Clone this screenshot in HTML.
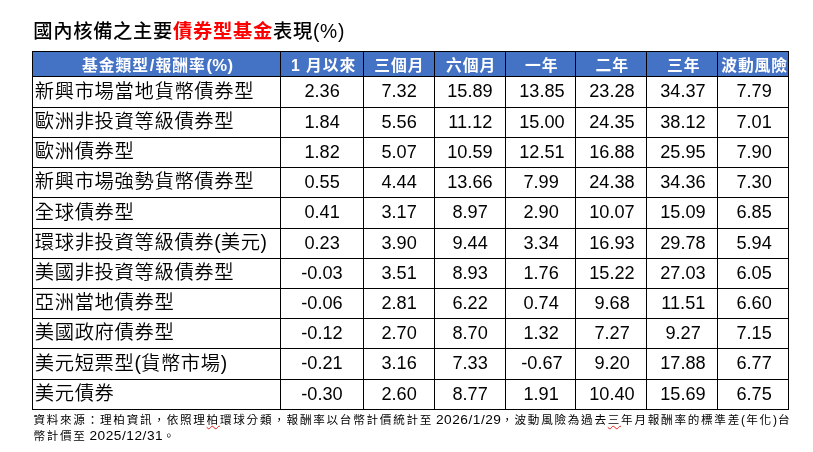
<!DOCTYPE html><html lang="zh-Hant"><head><meta charset="utf-8"><title>債券型基金表現</title><style>
html,body{margin:0;padding:0;background:#fff;}
body{width:813px;height:452px;position:relative;overflow:hidden;font-family:"Liberation Sans","Noto Sans CJK TC",sans-serif;color:#000;}
.a{position:absolute;white-space:nowrap;}
.title{left:33.2px;top:18.0px;font-size:19.3px;font-weight:500;line-height:28px;height:28px;letter-spacing:0.7px;}
.title b{color:#ff0000;font-weight:700;}
.hdrbg{background:#4472c4;}
.ln{position:absolute;background:#000;}
.h{color:#fff;font-weight:700;font-size:15.8px;text-align:center;letter-spacing:0.9px;}
.h i{font-style:normal;font-size:16.7px;letter-spacing:0.4px;padding:0 0.8px;line-height:1px;}
.foot i{font-style:normal;font-size:13.7px;letter-spacing:0.52px;line-height:1px;position:relative;top:-0.1px;margin-left:-2.2px;margin-right:-0.3px;}
.foot i.p{font-size:12px;letter-spacing:1.2px;top:0;margin:0;}
.foot u{text-decoration:underline wavy #e8201a;text-decoration-thickness:1px;text-underline-offset:1px;text-decoration-skip-ink:none;}
.c i{font-style:normal;letter-spacing:0;}
.c{font-size:19.3px;font-weight:350;text-align:left;letter-spacing:0.66px;}
.n{font-size:17.55px;text-align:center;}
.n span{display:inline-block;transform:scaleX(1.035);}
.foot{left:33.4px;top:412.0px;width:765px;font-size:11.6px;line-height:16.0px;white-space:nowrap;letter-spacing:1.73px;}

</style></head><body>
<div class="a title">國內核備之主要<b>債券型基金</b>表現(%)</div>
<div class="a hdrbg" style="left:32.00px;top:51.00px;width:757.00px;height:26.00px"></div>
<div class="a h" style="left:34.20px;top:53.20px;width:248.00px;height:25.00px;line-height:25.00px">基金類型<i>/</i>報酬率<i>(%)</i></div>
<div class="a h" style="left:282.10px;top:53.20px;width:83.00px;height:25.00px;line-height:25.00px">1 月以來</div>
<div class="a h" style="left:363.90px;top:53.20px;width:71.00px;height:25.00px;line-height:25.00px">三個月</div>
<div class="a h" style="left:435.60px;top:53.20px;width:71.00px;height:25.00px;line-height:25.00px">六個月</div>
<div class="a h" style="left:506.70px;top:53.20px;width:70.00px;height:25.00px;line-height:25.00px">一年</div>
<div class="a h" style="left:576.70px;top:53.20px;width:71.00px;height:25.00px;line-height:25.00px">二年</div>
<div class="a h" style="left:648.20px;top:53.20px;width:71.00px;height:25.00px;line-height:25.00px">三年</div>
<div class="a h" style="left:719.10px;top:53.20px;width:71.00px;height:25.00px;line-height:25.00px">波動風險</div>
<div class="a c" style="left:34.80px;top:75.70px;height:31.00px;line-height:31.00px">新興市場當地貨幣債券型</div>
<div class="a n" style="left:280.80px;top:75.85px;width:83.00px;height:31.00px;line-height:31.00px"><span>2.36</span></div>
<div class="a n" style="left:363.50px;top:75.85px;width:71.00px;height:31.00px;line-height:31.00px"><span>7.32</span></div>
<div class="a n" style="left:434.50px;top:75.85px;width:71.00px;height:31.00px;line-height:31.00px"><span>15.89</span></div>
<div class="a n" style="left:506.50px;top:75.85px;width:70.00px;height:31.00px;line-height:31.00px"><span>13.85</span></div>
<div class="a n" style="left:576.50px;top:75.85px;width:71.00px;height:31.00px;line-height:31.00px"><span>23.28</span></div>
<div class="a n" style="left:647.50px;top:75.85px;width:71.00px;height:31.00px;line-height:31.00px"><span>34.37</span></div>
<div class="a n" style="left:718.50px;top:75.85px;width:71.00px;height:31.00px;line-height:31.00px"><span>7.79</span></div>
<div class="a c" style="left:34.80px;top:106.70px;height:30.00px;line-height:30.00px">歐洲非投資等級債券型</div>
<div class="a n" style="left:280.80px;top:106.85px;width:83.00px;height:30.00px;line-height:30.00px"><span>1.84</span></div>
<div class="a n" style="left:363.50px;top:106.85px;width:71.00px;height:30.00px;line-height:30.00px"><span>5.56</span></div>
<div class="a n" style="left:434.50px;top:106.85px;width:71.00px;height:30.00px;line-height:30.00px"><span>11.12</span></div>
<div class="a n" style="left:506.50px;top:106.85px;width:70.00px;height:30.00px;line-height:30.00px"><span>15.00</span></div>
<div class="a n" style="left:576.50px;top:106.85px;width:71.00px;height:30.00px;line-height:30.00px"><span>24.35</span></div>
<div class="a n" style="left:647.50px;top:106.85px;width:71.00px;height:30.00px;line-height:30.00px"><span>38.12</span></div>
<div class="a n" style="left:718.50px;top:106.85px;width:71.00px;height:30.00px;line-height:30.00px"><span>7.01</span></div>
<div class="a c" style="left:34.80px;top:136.70px;height:30.00px;line-height:30.00px">歐洲債券型</div>
<div class="a n" style="left:280.80px;top:136.85px;width:83.00px;height:30.00px;line-height:30.00px"><span>1.82</span></div>
<div class="a n" style="left:363.50px;top:136.85px;width:71.00px;height:30.00px;line-height:30.00px"><span>5.07</span></div>
<div class="a n" style="left:434.50px;top:136.85px;width:71.00px;height:30.00px;line-height:30.00px"><span>10.59</span></div>
<div class="a n" style="left:506.50px;top:136.85px;width:70.00px;height:30.00px;line-height:30.00px"><span>12.51</span></div>
<div class="a n" style="left:576.50px;top:136.85px;width:71.00px;height:30.00px;line-height:30.00px"><span>16.88</span></div>
<div class="a n" style="left:647.50px;top:136.85px;width:71.00px;height:30.00px;line-height:30.00px"><span>25.95</span></div>
<div class="a n" style="left:718.50px;top:136.85px;width:71.00px;height:30.00px;line-height:30.00px"><span>7.90</span></div>
<div class="a c" style="left:34.80px;top:166.70px;height:30.00px;line-height:30.00px">新興市場強勢貨幣債券型</div>
<div class="a n" style="left:280.80px;top:166.85px;width:83.00px;height:30.00px;line-height:30.00px"><span>0.55</span></div>
<div class="a n" style="left:363.50px;top:166.85px;width:71.00px;height:30.00px;line-height:30.00px"><span>4.44</span></div>
<div class="a n" style="left:434.50px;top:166.85px;width:71.00px;height:30.00px;line-height:30.00px"><span>13.66</span></div>
<div class="a n" style="left:506.50px;top:166.85px;width:70.00px;height:30.00px;line-height:30.00px"><span>7.99</span></div>
<div class="a n" style="left:576.50px;top:166.85px;width:71.00px;height:30.00px;line-height:30.00px"><span>24.38</span></div>
<div class="a n" style="left:647.50px;top:166.85px;width:71.00px;height:30.00px;line-height:30.00px"><span>34.36</span></div>
<div class="a n" style="left:718.50px;top:166.85px;width:71.00px;height:30.00px;line-height:30.00px"><span>7.30</span></div>
<div class="a c" style="left:34.80px;top:196.70px;height:31.00px;line-height:31.00px">全球債券型</div>
<div class="a n" style="left:280.80px;top:196.85px;width:83.00px;height:31.00px;line-height:31.00px"><span>0.41</span></div>
<div class="a n" style="left:363.50px;top:196.85px;width:71.00px;height:31.00px;line-height:31.00px"><span>3.17</span></div>
<div class="a n" style="left:434.50px;top:196.85px;width:71.00px;height:31.00px;line-height:31.00px"><span>8.97</span></div>
<div class="a n" style="left:506.50px;top:196.85px;width:70.00px;height:31.00px;line-height:31.00px"><span>2.90</span></div>
<div class="a n" style="left:576.50px;top:196.85px;width:71.00px;height:31.00px;line-height:31.00px"><span>10.07</span></div>
<div class="a n" style="left:647.50px;top:196.85px;width:71.00px;height:31.00px;line-height:31.00px"><span>15.09</span></div>
<div class="a n" style="left:718.50px;top:196.85px;width:71.00px;height:31.00px;line-height:31.00px"><span>6.85</span></div>
<div class="a c" style="left:34.80px;top:227.70px;height:30.00px;line-height:30.00px">環球非投資等級債券<i>(</i>美元<i>)</i></div>
<div class="a n" style="left:280.80px;top:227.85px;width:83.00px;height:30.00px;line-height:30.00px"><span>0.23</span></div>
<div class="a n" style="left:363.50px;top:227.85px;width:71.00px;height:30.00px;line-height:30.00px"><span>3.90</span></div>
<div class="a n" style="left:434.50px;top:227.85px;width:71.00px;height:30.00px;line-height:30.00px"><span>9.44</span></div>
<div class="a n" style="left:506.50px;top:227.85px;width:70.00px;height:30.00px;line-height:30.00px"><span>3.34</span></div>
<div class="a n" style="left:576.50px;top:227.85px;width:71.00px;height:30.00px;line-height:30.00px"><span>16.93</span></div>
<div class="a n" style="left:647.50px;top:227.85px;width:71.00px;height:30.00px;line-height:30.00px"><span>29.78</span></div>
<div class="a n" style="left:718.50px;top:227.85px;width:71.00px;height:30.00px;line-height:30.00px"><span>5.94</span></div>
<div class="a c" style="left:34.80px;top:257.70px;height:30.00px;line-height:30.00px">美國非投資等級債券型</div>
<div class="a n" style="left:280.80px;top:257.85px;width:83.00px;height:30.00px;line-height:30.00px"><span>-0.03</span></div>
<div class="a n" style="left:363.50px;top:257.85px;width:71.00px;height:30.00px;line-height:30.00px"><span>3.51</span></div>
<div class="a n" style="left:434.50px;top:257.85px;width:71.00px;height:30.00px;line-height:30.00px"><span>8.93</span></div>
<div class="a n" style="left:506.50px;top:257.85px;width:70.00px;height:30.00px;line-height:30.00px"><span>1.76</span></div>
<div class="a n" style="left:576.50px;top:257.85px;width:71.00px;height:30.00px;line-height:30.00px"><span>15.22</span></div>
<div class="a n" style="left:647.50px;top:257.85px;width:71.00px;height:30.00px;line-height:30.00px"><span>27.03</span></div>
<div class="a n" style="left:718.50px;top:257.85px;width:71.00px;height:30.00px;line-height:30.00px"><span>6.05</span></div>
<div class="a c" style="left:34.80px;top:287.70px;height:30.00px;line-height:30.00px">亞洲當地債券型</div>
<div class="a n" style="left:280.80px;top:287.85px;width:83.00px;height:30.00px;line-height:30.00px"><span>-0.06</span></div>
<div class="a n" style="left:363.50px;top:287.85px;width:71.00px;height:30.00px;line-height:30.00px"><span>2.81</span></div>
<div class="a n" style="left:434.50px;top:287.85px;width:71.00px;height:30.00px;line-height:30.00px"><span>6.22</span></div>
<div class="a n" style="left:506.50px;top:287.85px;width:70.00px;height:30.00px;line-height:30.00px"><span>0.74</span></div>
<div class="a n" style="left:576.50px;top:287.85px;width:71.00px;height:30.00px;line-height:30.00px"><span>9.68</span></div>
<div class="a n" style="left:647.50px;top:287.85px;width:71.00px;height:30.00px;line-height:30.00px"><span>11.51</span></div>
<div class="a n" style="left:718.50px;top:287.85px;width:71.00px;height:30.00px;line-height:30.00px"><span>6.60</span></div>
<div class="a c" style="left:34.80px;top:317.70px;height:30.00px;line-height:30.00px">美國政府債券型</div>
<div class="a n" style="left:280.80px;top:317.85px;width:83.00px;height:30.00px;line-height:30.00px"><span>-0.12</span></div>
<div class="a n" style="left:363.50px;top:317.85px;width:71.00px;height:30.00px;line-height:30.00px"><span>2.70</span></div>
<div class="a n" style="left:434.50px;top:317.85px;width:71.00px;height:30.00px;line-height:30.00px"><span>8.70</span></div>
<div class="a n" style="left:506.50px;top:317.85px;width:70.00px;height:30.00px;line-height:30.00px"><span>1.32</span></div>
<div class="a n" style="left:576.50px;top:317.85px;width:71.00px;height:30.00px;line-height:30.00px"><span>7.27</span></div>
<div class="a n" style="left:647.50px;top:317.85px;width:71.00px;height:30.00px;line-height:30.00px"><span>9.27</span></div>
<div class="a n" style="left:718.50px;top:317.85px;width:71.00px;height:30.00px;line-height:30.00px"><span>7.15</span></div>
<div class="a c" style="left:34.80px;top:347.70px;height:31.00px;line-height:31.00px">美元短票型<i>(</i>貨幣市場<i>)</i></div>
<div class="a n" style="left:280.80px;top:347.85px;width:83.00px;height:31.00px;line-height:31.00px"><span>-0.21</span></div>
<div class="a n" style="left:363.50px;top:347.85px;width:71.00px;height:31.00px;line-height:31.00px"><span>3.16</span></div>
<div class="a n" style="left:434.50px;top:347.85px;width:71.00px;height:31.00px;line-height:31.00px"><span>7.33</span></div>
<div class="a n" style="left:506.50px;top:347.85px;width:70.00px;height:31.00px;line-height:31.00px"><span>-0.67</span></div>
<div class="a n" style="left:576.50px;top:347.85px;width:71.00px;height:31.00px;line-height:31.00px"><span>9.20</span></div>
<div class="a n" style="left:647.50px;top:347.85px;width:71.00px;height:31.00px;line-height:31.00px"><span>17.88</span></div>
<div class="a n" style="left:718.50px;top:347.85px;width:71.00px;height:31.00px;line-height:31.00px"><span>6.77</span></div>
<div class="a c" style="left:34.80px;top:378.70px;height:30.00px;line-height:30.00px">美元債券</div>
<div class="a n" style="left:280.80px;top:378.85px;width:83.00px;height:30.00px;line-height:30.00px"><span>-0.30</span></div>
<div class="a n" style="left:363.50px;top:378.85px;width:71.00px;height:30.00px;line-height:30.00px"><span>2.60</span></div>
<div class="a n" style="left:434.50px;top:378.85px;width:71.00px;height:30.00px;line-height:30.00px"><span>8.77</span></div>
<div class="a n" style="left:506.50px;top:378.85px;width:70.00px;height:30.00px;line-height:30.00px"><span>1.91</span></div>
<div class="a n" style="left:576.50px;top:378.85px;width:71.00px;height:30.00px;line-height:30.00px"><span>10.40</span></div>
<div class="a n" style="left:647.50px;top:378.85px;width:71.00px;height:30.00px;line-height:30.00px"><span>15.69</span></div>
<div class="a n" style="left:718.50px;top:378.85px;width:71.00px;height:30.00px;line-height:30.00px"><span>6.75</span></div>
<div class="ln" style="left:32px;top:51px;width:1px;height:359px"></div>
<div class="ln" style="left:280px;top:51px;width:1px;height:359px"></div>
<div class="ln" style="left:363px;top:51px;width:1px;height:359px"></div>
<div class="ln" style="left:434px;top:51px;width:1px;height:359px"></div>
<div class="ln" style="left:505px;top:51px;width:1px;height:359px"></div>
<div class="ln" style="left:575px;top:51px;width:1px;height:359px"></div>
<div class="ln" style="left:646px;top:51px;width:1px;height:359px"></div>
<div class="ln" style="left:717px;top:51px;width:1px;height:359px"></div>
<div class="ln" style="left:788px;top:51px;width:1px;height:359px"></div>
<div class="ln" style="left:32px;top:51px;width:757px;height:1px"></div>
<div class="ln" style="left:32px;top:76px;width:757px;height:1px"></div>
<div class="ln" style="left:32px;top:107px;width:757px;height:1px"></div>
<div class="ln" style="left:32px;top:137px;width:757px;height:1px"></div>
<div class="ln" style="left:32px;top:167px;width:757px;height:1px"></div>
<div class="ln" style="left:32px;top:197px;width:757px;height:1px"></div>
<div class="ln" style="left:32px;top:228px;width:757px;height:1px"></div>
<div class="ln" style="left:32px;top:258px;width:757px;height:1px"></div>
<div class="ln" style="left:32px;top:288px;width:757px;height:1px"></div>
<div class="ln" style="left:32px;top:318px;width:757px;height:1px"></div>
<div class="ln" style="left:32px;top:348px;width:757px;height:1px"></div>
<div class="ln" style="left:32px;top:379px;width:757px;height:1px"></div>
<div class="ln" style="left:32px;top:409px;width:757px;height:1px"></div>
<div class="a foot"><span class="s1">資料來源：理柏資訊，依照理<u class="w">柏</u>環球分類，</span><span class="s2">報酬率以台幣計價統計至</span> <i>2026/1/29</i><span class="s3">，波動風險為過去<u class="w">三</u>年月報酬率的標準差<i class="p">(</i>年化<i class="p">)</i>台</span><br>幣計價至 <i>2025/12/31</i>。</div>
</body></html>
